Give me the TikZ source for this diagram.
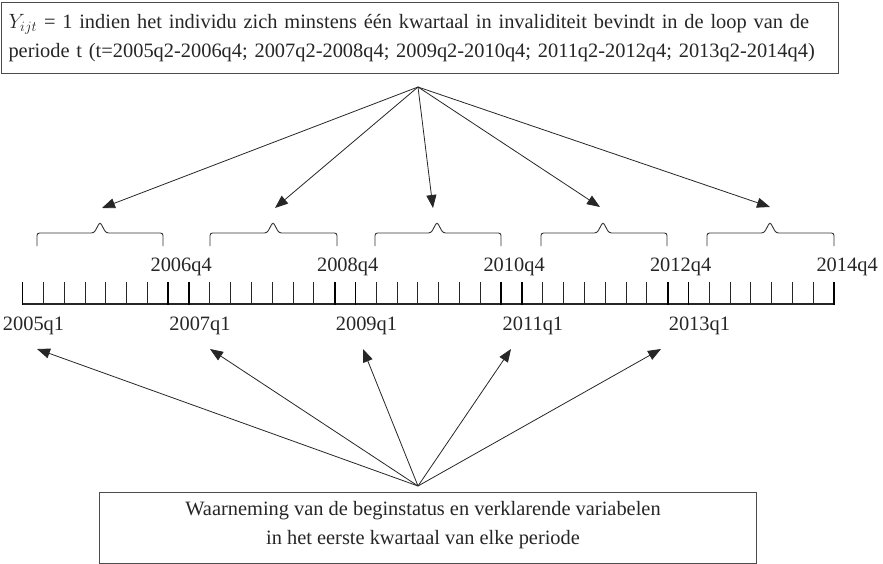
\documentclass[tikz,border=0pt]{standalone}
\usepackage{fontspec}
\setmainfont{Liberation Serif}
\usetikzlibrary{arrows.meta}
\begin{document}
\begin{tikzpicture}[x=1bp,y=-1bp,
  every node/.style={font=\fontsize{20.4bp}{29bp}\selectfont, inner sep=0pt, text=black!85},
  arr/.style={draw=black!85, line width=0.8bp, -{Triangle[length=13bp,width=10bp]}},
  box/.style={draw=black!70, line width=1bp},
  brace/.style={draw=black!80, line width=0.9bp, rounded corners=2.5bp},
  qtick/.style={draw=black!85, line width=0.8bp},
  ytick/.style={draw=black, line width=1.8bp},
]
\useasboundingbox (0,0) rectangle (883,564);
\def\xo{22.5}\def\dx{20.81}
% boxes
\node[box, anchor=north west, minimum height=71bp, inner xsep=7bp, text width=823bp, align=left] (topbox) at (1,2)
  {$Y_{ijt}$ = 1 indien het individu zich minstens één kwartaal in invaliditeit bevindt in de loop van de\\
   periode t (t=2005q2-2006q4; 2007q2-2008q4; 2009q2-2010q4; 2011q2-2012q4; 2013q2-2014q4)};
\node[box, anchor=north west, minimum width=657bp, minimum height=71bp] (botbox) at (99,492) {};
\node[align=center] (bottext) at (423,525)
  {Waarneming van de beginstatus en verklarende variabelen\\ in het eerste kwartaal van elke periode};
% timeline
\draw[line width=1.5bp, black!85] (\xo,304) -- (834,304);
\foreach \i in {0,...,39}{\draw[qtick] (\xo+\i*\dx,282) -- (\xo+\i*\dx,304);}
\foreach \i in {0,7,8,15,16,23,24,31,32,39}{\draw[ytick] (\xo+\i*\dx,282) -- (\xo+\i*\dx,304.7);}
\foreach \i/\lab in {7/2006q4,15/2008q4,23/2010q4,31/2012q4,39/2014q4}
  {\node (lq4-\i) at (\xo+\i*\dx+13,267) {\lab};}
\foreach \i/\lab in {0/2005q1,8/2007q1,16/2009q1,24/2011q1,32/2013q1}
  {\node (lq1-\i) at (\xo+\i*\dx+11,326) {\lab};}
% braces
\foreach \a/\p/\b in {37/100/163,210/273/337,375/437/501,541/603/667,707/770/834}
  {\draw[brace] (\a,246) -- (\a,233) -- (\p-6,233) -- (\p,222) -- (\p+6,233) -- (\b,233) -- (\b,246);}
% top arrows
\coordinate (topapex) at (418,87);
\coordinate (t1) at (102,208);
\coordinate (t2) at (275,208);
\coordinate (t3) at (433,208);
\coordinate (t4) at (600,207);
\coordinate (t5) at (770,207);
\foreach \t in {t1,t2,t3,t4,t5}{\draw[arr] (topapex) -- (\t);}
% bottom arrows
\coordinate (botapex) at (418,486);
\coordinate (b1) at (37,349);
\coordinate (b2) at (210,349);
\coordinate (b3) at (363,349);
\coordinate (b4) at (511,349);
\coordinate (b5) at (661,349);
\foreach \b in {b1,b2,b3,b4,b5}{\draw[arr] (botapex) -- (\b);}
\end{tikzpicture}
\end{document}
